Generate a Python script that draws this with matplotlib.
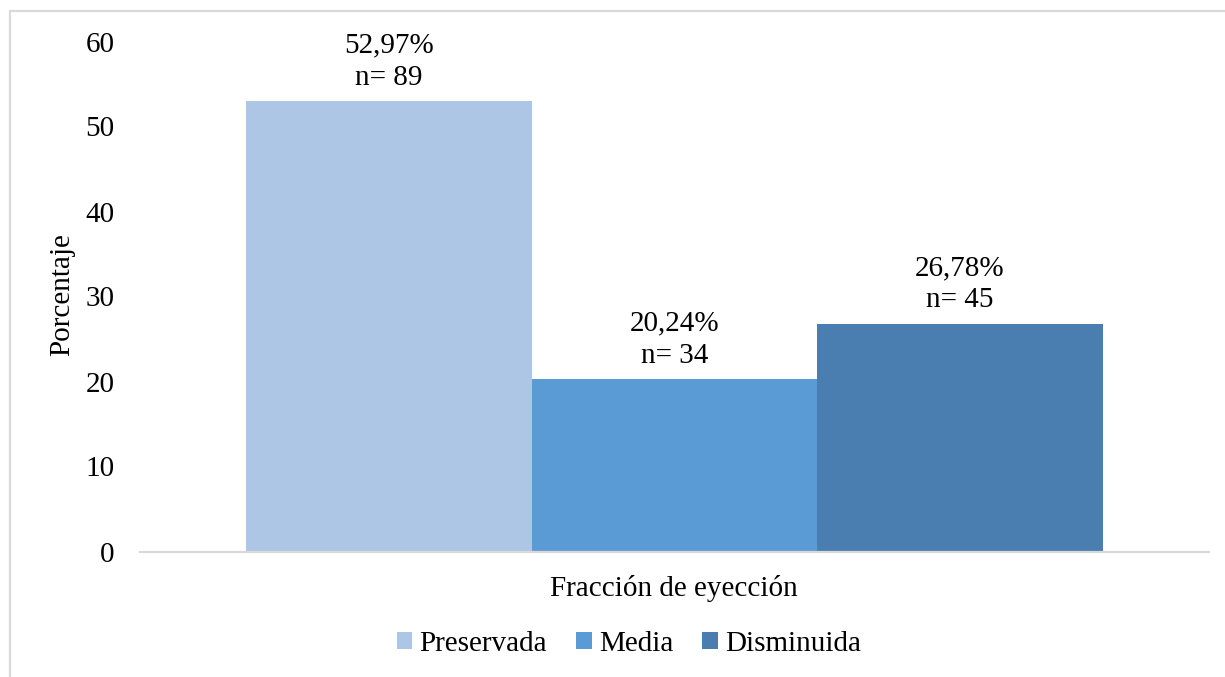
import matplotlib
matplotlib.use("Agg")
import matplotlib.pyplot as plt
from matplotlib.patches import Rectangle, Patch

categories = ["Preservada", "Media", "Disminuida"]
percentages = [52.97, 20.24, 26.78]
counts = [89, 34, 45]
colors = ["#ADC6E5", "#5B9BD5", "#4A7EB0"]
y_ticks = [0, 10, 20, 30, 40, 50, 60]
x_label = "Fracción de eyección"
y_label = "Porcentaje"

plt.rcParams["font.family"] = ["Liberation Serif", "DejaVu Serif"]
FS = 21

W, H = 1225, 677
fig = plt.figure(figsize=(W / 100, H / 100), dpi=100)

# light frame around the chart area
fig.patches.append(Rectangle((10 / W, -0.2), 1.2, 1.2 - 11 / H,
                             transform=fig.transFigure, fill=False,
                             edgecolor="#D9D9D9", linewidth=1.6, clip_on=False))

left, right = 140 / W, 1209 / W
bottom, top = 1 - 551.5 / H, 1 - 41.5 / H
ax = fig.add_axes([left, bottom, right - left, top - bottom])

positions = [-1, 0, 1]
bars = ax.bar(positions, percentages, width=1.0, color=colors, linewidth=0)

for x, p, n in zip(positions, percentages, counts):
    label = f"{p:.2f}".replace(".", ",") + f"%\nn= {n}"
    ax.annotate(label, xy=(x, p), xytext=(0, 7.5), textcoords="offset points",
                ha="center", va="bottom", fontsize=FS, linespacing=1.32)

ax.set_xlim(-1.873, 1.873)
ax.set_ylim(0, 60)
ax.set_yticks(y_ticks)
ax.set_yticklabels([str(t) for t in y_ticks], fontsize=FS)
ax.set_xticks([])
ax.tick_params(axis="y", length=0, pad=18.5)

for side in ["top", "right", "left"]:
    ax.spines[side].set_visible(False)
ax.spines["bottom"].set_color("#D9D9D9")
ax.spines["bottom"].set_linewidth(1.6)

fig.text(674 / W, 1 - 588 / H, x_label, ha="center", va="center", fontsize=FS)
fig.text(62 / W, 1 - 295 / H, y_label, ha="center", va="center",
         rotation=90, fontsize=FS)

handles = [Patch(facecolor=c, edgecolor="none") for c in colors]
fig.legend(handles, categories, loc="center", bbox_to_anchor=(629 / W, 1 - 644 / H),
           ncol=3, frameon=False, fontsize=FS, handlelength=0.52, handleheight=0.52,
           handletextpad=0.25, columnspacing=1.0, borderpad=0, borderaxespad=0)

fig.savefig("out.png", dpi=100, facecolor="white")
